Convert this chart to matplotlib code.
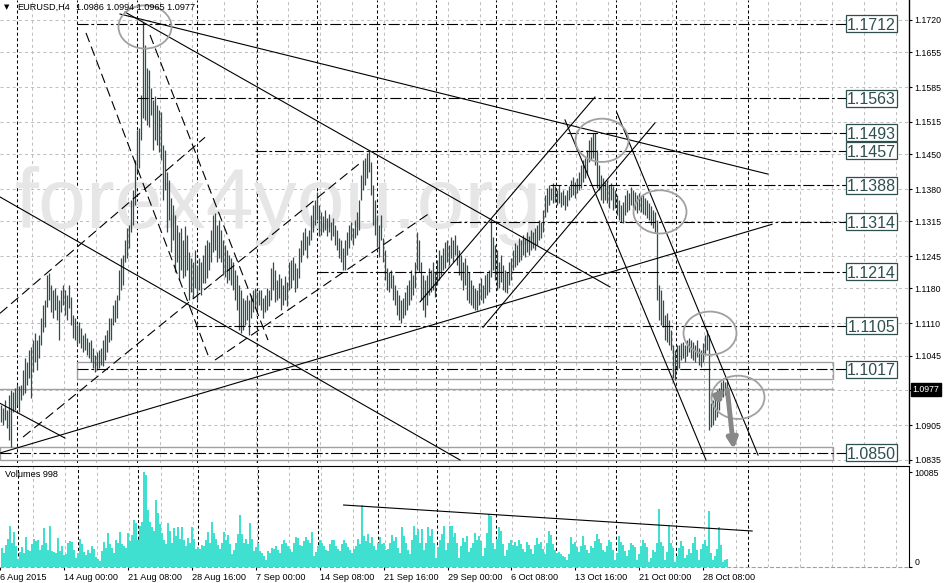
import matplotlib
matplotlib.use("Agg")
import matplotlib.pyplot as plt
from matplotlib.patches import Ellipse, Rectangle
from matplotlib.transforms import blended_transform_factory

plt.rcParams['font.family'] = ['Liberation Sans', 'DejaVu Sans']
plt.rcParams['lines.scale_dashes'] = False

# EURUSD H4 bars, prices in pips (1e-4)
high = [10945, 10939, 10955, 10935, 10966, 10976, 10972, 10980, 10986, 10984,
        10986, 11016, 11040, 11032, 11056, 11062, 11076, 11090, 11076, 11086,
        11120, 11147, 11157, 11207, 11211, 11187, 11177, 11181, 11167, 11157,
        11177, 11187, 11177, 11167, 11187, 11163, 11126, 11120, 11106, 11112,
        11100, 11086, 11090, 11080, 11072, 11076, 11060, 11046, 11052, 11056,
        11060, 11076, 11086, 11096, 11120, 11120, 11147, 11157, 11167, 11217,
        11241, 11247, 11277, 11301, 11307, 11358, 11378, 11438, 11499, 11503,
        11569, 11716, 11669, 11623, 11619, 11583, 11559, 11567, 11549, 11539,
        11535, 11468, 11458, 11414, 11398, 11362, 11348, 11328, 11307, 11293,
        11301, 11277, 11305, 11287, 11253, 11241, 11233, 11257, 11227, 11241,
        11233, 11247, 11267, 11277, 11273, 11297, 11328, 11332, 11307, 11317,
        11297, 11277, 11267, 11257, 11247, 11241, 11233, 11217, 11207, 11187,
        11177, 11161, 11157, 11167, 11157, 11167, 11177, 11181, 11173, 11177,
        11177, 11161, 11167, 11181, 11177, 11221, 11233, 11217, 11197, 11209,
        11201, 11187, 11205, 11193, 11233, 11237, 11243, 11231, 11221, 11261,
        11277, 11293, 11301, 11285, 11297, 11328, 11348, 11358, 11374, 11348,
        11334, 11326, 11338, 11322, 11330, 11313, 11322, 11307, 11297, 11281,
        11277, 11261, 11277, 11293, 11307, 11313, 11301, 11317, 11334, 11358,
        11408, 11438, 11442, 11452, 11458, 11434, 11388, 11358, 11328, 11307,
        11328, 11281, 11257, 11221, 11213, 11217, 11207, 11187, 11177, 11167,
        11157, 11161, 11173, 11187, 11197, 11217, 11207, 11233, 11293, 11277,
        11233, 11207, 11197, 11207, 11221, 11217, 11233, 11213, 11237, 11257,
        11247, 11261, 11273, 11277, 11267, 11283, 11277, 11287, 11267, 11257,
        11247, 11233, 11241, 11227, 11213, 11197, 11187, 11181, 11177, 11191,
        11201, 11187, 11207, 11211, 11217, 11317, 11283, 11267, 11257, 11233,
        11247, 11227, 11217, 11213, 11233, 11241, 11257, 11271, 11267, 11281,
        11277, 11287, 11281, 11293, 11285, 11297, 11293, 11301, 11307, 11317,
        11313, 11338, 11368, 11382, 11388, 11382, 11392, 11386, 11378, 11388,
        11374, 11378, 11368, 11378, 11386, 11398, 11404, 11394, 11402, 11414,
        11428, 11438, 11442, 11458, 11478, 11484, 11492, 11492, 11458, 11428,
        11408, 11402, 11394, 11398, 11388, 11392, 11386, 11378, 11368, 11358,
        11348, 11354, 11368, 11378, 11372, 11384, 11378, 11374, 11368, 11372,
        11366, 11368, 11362, 11358, 11352, 11346, 11338, 11334, 11317, 11187,
        11177, 11157, 11126, 11130, 11116, 11096, 11066, 11056, 11066, 11066,
        11070, 11072, 11066, 11076, 11080, 11076, 11072, 11066, 11076, 11060,
        11056, 11070, 11086, 11096, 11086, 10949, 10955, 10966, 10976, 10980,
        10992, 10996, 10992, 10994]

low = [10911, 10905, 10915, 10899, 10875, 10861, 10931, 10935, 10945, 10931,
       10955, 10966, 10970, 10986, 11000, 10959, 11012, 11032, 11016, 11040,
       11066, 11092, 11102, 11143, 11157, 11132, 11120, 11136, 11116, 11076,
       11132, 11147, 11126, 11116, 11140, 11106, 11080, 11076, 11066, 11070,
       11060, 11052, 11056, 11046, 11040, 11032, 11020, 11012, 11016, 11020,
       11026, 11024, 11036, 11052, 11072, 11076, 11106, 11112, 11120, 11157,
       11177, 11187, 11233, 11241, 11261, 11293, 11307, 11348, 11414, 11422,
       11478, 11523, 11519, 11509, 11505, 11529, 11458, 11478, 11468, 11454,
       11438, 11358, 11378, 11293, 11317, 11253, 11277, 11213, 11233, 11197,
       11217, 11201, 11205, 11217, 11157, 11173, 11161, 11181, 11157, 11177,
       11167, 11191, 11191, 11201, 11217, 11233, 11253, 11257, 11233, 11241,
       11233, 11207, 11203, 11191, 11197, 11187, 11177, 11157, 11136, 11096,
       11090, 11096, 11106, 11116, 11086, 11120, 11132, 11140, 11136, 11147,
       11136, 11120, 11132, 11136, 11145, 11157, 11177, 11153, 11157, 11161,
       11136, 11147, 11157, 11145, 11177, 11181, 11197, 11173, 11181, 11201,
       11233, 11247, 11257, 11241, 11267, 11277, 11293, 11307, 11317, 11285,
       11287, 11293, 11297, 11285, 11293, 11277, 11285, 11267, 11257, 11241,
       11233, 11217, 11217, 11247, 11261, 11277, 11267, 11281, 11287, 11297,
       11358, 11378, 11388, 11402, 11414, 11368, 11307, 11287, 11263, 11243,
       11277, 11233, 11197, 11177, 11173, 11181, 11157, 11147, 11126, 11116,
       11110, 11120, 11126, 11136, 11147, 11157, 11167, 11181, 11217, 11213,
       11157, 11136, 11122, 11147, 11167, 11173, 11177, 11163, 11187, 11197,
       11207, 11217, 11221, 11233, 11227, 11241, 11233, 11247, 11227, 11207,
       11197, 11177, 11187, 11157, 11151, 11147, 11140, 11136, 11136, 11147,
       11157, 11151, 11161, 11167, 11173, 11203, 11217, 11197, 11177, 11181,
       11193, 11177, 11173, 11171, 11187, 11197, 11217, 11223, 11227, 11233,
       11237, 11247, 11243, 11253, 11247, 11257, 11261, 11257, 11267, 11277,
       11281, 11293, 11324, 11334, 11348, 11358, 11352, 11354, 11348, 11352,
       11344, 11348, 11338, 11346, 11358, 11364, 11368, 11362, 11372, 11378,
       11382, 11394, 11402, 11408, 11434, 11438, 11442, 11428, 11382, 11378,
       11358, 11352, 11358, 11352, 11342, 11358, 11338, 11342, 11328, 11317,
       11313, 11311, 11328, 11334, 11338, 11348, 11342, 11338, 11332, 11338,
       11334, 11330, 11328, 11322, 11317, 11307, 11301, 11293, 11157, 11116,
       11106, 11102, 11076, 11072, 11066, 11056, 11000, 10996, 11016, 11020,
       11036, 11040, 11032, 11044, 11052, 11040, 11036, 11032, 11042, 11026,
       11022, 11032, 11046, 11056, 10895, 10901, 10905, 10915, 10921, 10935,
       10955, 10961, 10966, 10965]

volume = [2000, 1500, 2300, 3000, 4350, 2500, 3700, 2200, 900, 1600,
          2100, 1500, 3200, 1800, 1700, 2400, 3000, 2800, 2900, 1800,
          2300, 4100, 2600, 1800, 4350, 1700, 1600, 1500, 3100, 1700,
          2200, 1300, 1400, 2600, 2800, 2700, 1800, 1000, 1500, 3000,
          2400, 1600, 1300, 1800, 1500, 2200, 1900, 1100, 900, 600,
          1700, 2700, 2000, 3600, 2400, 2000, 1500, 2900, 2500, 3700,
          2400, 2200, 2000, 3600, 2800, 3400, 5000, 4700, 2900, 4400,
          4800, 10085, 9770, 6000, 4800, 4200, 3800, 7100, 5700, 4600,
          3600, 2900, 2400, 4700, 3800, 2600, 4150, 3300, 4250, 3000,
          4250, 2900, 2200, 3100, 2600, 4250, 3000, 1900, 2100, 1900,
          2300, 2200, 2900, 3700, 2600, 4800, 3600, 3000, 2300, 1900,
          2500, 3700, 2900, 3400, 2400, 1400, 1800, 2600, 3500, 5500,
          3500, 2500, 3000, 2400, 4700, 3000, 1700, 2100, 2600, 1700,
          1500, 1200, 700, 1700, 1500, 2000, 1900, 2200, 1800, 1500,
          2400, 2900, 2600, 2200, 1900, 1600, 2500, 3200, 3100, 2300,
          2200, 2800, 3200, 2900, 2600, 3700, 1200, 1600, 2200, 2900,
          2600, 2200, 1800, 1700, 2400, 2900, 2900, 2200, 1900, 1700,
          2400, 2900, 2600, 2100, 1800, 1500, 1900, 2200, 3000, 2400,
          6580, 3300, 2800, 3500, 2600, 3200, 2200, 1800, 2600, 3200,
          2400, 2600, 1800, 1900, 2500, 3400, 2800, 3200, 2000, 1500,
          4200, 3300, 2600, 1800, 1400, 2900, 4400, 3400, 4000, 2500,
          4000, 1800, 2600, 4200, 3300, 4000, 2600, 1000, 2100, 2900,
          3500, 4400, 1800, 2600, 4400, 4400, 3200, 3600, 2500, 1000,
          2200, 3100, 2700, 3300, 1600, 2000, 2500, 3600, 2900, 3300,
          2800, 1200, 2000, 3600, 5650, 5400, 2600, 1900, 3000, 4200,
          3800, 2400, 1200, 1800, 2500, 2900, 2300, 2700, 2200, 2900,
          2400, 1900, 1600, 2700, 2300, 1900, 1400, 2300, 3100, 2400,
          2700, 1900, 1400, 2600, 3800, 3400, 2400, 1800, 1500, 1600,
          1400, 1200, 1100, 700, 1400, 3200, 2400, 2700, 2100, 1600,
          2200, 3300, 2300, 1800, 1500, 2200, 2000, 2800, 3550, 3000,
          2500, 1800, 1600, 2200, 2900, 2700, 1800, 700, 1500, 3250,
          2700, 2300, 1700, 1200, 1800, 2500, 2300, 2100, 700, 1400,
          2200, 2900, 2500, 2100, 500, 1000, 1800, 1600, 2600, 6200,
          2700, 2200, 700, 1600, 4350, 2500, 2000, 500, 1200, 2000,
          2800, 2200, 1000, 1300, 1900, 1500, 2500, 3200, 1800, 700,
          1900, 2400, 2900, 2200, 5900, 1500, 700, 1200, 1900, 4200,
          2300, 500, 700, 850]

price_ticks = [1.1720, 1.1655, 1.1585, 1.1515, 1.1450, 1.1380, 1.1315,
               1.1245, 1.1180, 1.1110, 1.1045, 1.0975, 1.0905, 1.0835]
time_labels = ["6 Aug 2015", "14 Aug 00:00", "21 Aug 08:00", "28 Aug 16:00",
               "7 Sep 00:00", "14 Sep 08:00", "21 Sep 16:00", "29 Sep 00:00",
               "6 Oct 08:00", "13 Oct 16:00", "21 Oct 00:00", "28 Oct 08:00"]
time_label_bars = [-1, 31, 63, 95, 127, 159, 191, 223, 255, 287, 319, 351]
week_sep = [8, 38, 68, 98, 128, 158, 188, 217.5, 247.5, 277.5, 307.5, 337.5, 373.5]

levels = [1.1712, 1.1563, 1.1493, 1.1457, 1.1388, 1.1314, 1.1214, 1.1105, 1.1017, 1.0850]
level_start = [38, 68, 283, 127, 274.5, 224.5, 158, 97, 38, -0.5]

# trend lines: (bar, price) -> (bar, price)
solid_lines = [((59.5, 1.1732), (383.5, 1.1410)),
               ((62, 1.1736), (304.5, 1.1183)),
               ((-0.5, 1.1364), (229.5, 1.0835)),
               ((-0.5, 1.0949), (32, 1.0879)),
               ((-0.5, 1.0849), (385.5, 1.1309)),
               ((209.5, 1.1153), (297, 1.1565)),
               ((241, 1.1102), (327, 1.1513)),
               ((282, 1.1519), (352.5, 1.0835)),
               ((308, 1.1533), (378.5, 1.0845))]
dashed_lines = [((42.5, 1.1694), (103.5, 1.1046)),
                ((74.5, 1.1690), (133.5, 1.1076)),
                ((-0.5, 1.1130), (102, 1.1484)),
                ((11, 1.0881), (179.5, 1.1432)),
                ((107, 1.1036), (214.5, 1.1332))]
circles = [(72, 1.1706), (300.5, 1.1478), (329.5, 1.1334), (354.5, 1.1090), (368.5, 1.0961)]

bar_color = '#2f4f4f'
grid_color = '#c0c0c0'

W, H = 945, 583
fig = plt.figure(figsize=(W / 100, H / 100), dpi=100)
ax = fig.add_axes([0, 1 - 463 / H, 909 / W, 463 / H])
axv = fig.add_axes([0, 1 - 567 / H, 909 / W, 101 / H])

n = len(high)
xs = list(range(n))

# ---- price panel ----
ax.set_xlim(-0.5, 454)
ax.set_ylim(1.08289, 1.17602)

for t in price_ticks:
    ax.axhline(t, color=grid_color, lw=0.75, ls=(0, (2.2, 2.2)), zorder=0.5)
for k in range(1, 29):
    for a in (ax, axv):
        a.axvline(16 * k - 0.5, color=grid_color, lw=0.75, ls=(0, (2.2, 2.2)), zorder=0.5)
for s in week_sep:
    for a in (ax, axv):
        a.axvline(s, color='black', lw=0.75, ls=(0, (2.2, 1.8)), zorder=0.8)

ax.text(7, 1.1301, "forex4you.org", fontsize=62, color='#e6e6e6',
        ha='left', va='baseline', zorder=1)

ax.vlines(xs, [v / 1e4 for v in low], [v / 1e4 for v in high], color=bar_color, lw=0.9, zorder=3)

# rectangles and bid line
ax.add_patch(Rectangle((38, 1.0998), 378, 0.0034, fill=False, ec='#a0a0a0', lw=1, zorder=2))
ax.add_patch(Rectangle((-0.5, 1.0835), 416.5, 0.0026, fill=False, ec='#a0a0a0', lw=1, zorder=2))
ax.plot([-0.5, 416], [1.0978, 1.0978], color='#a0a0a0', lw=1, zorder=2)

for (x0, y0), (x1, y1) in solid_lines:
    ax.plot([x0, x1], [y0, y1], color='black', lw=0.8, zorder=4)
for (x0, y0), (x1, y1) in dashed_lines:
    ax.plot([x0, x1], [y0, y1], color='black', lw=0.8, ls=(0, (7, 3.5)), zorder=4)

for lvl, x0 in zip(levels, level_start):
    ax.plot([x0, 422.5], [lvl, lvl], color='black', lw=0.8, ls=(0, (8, 2, 2, 2)), zorder=4)
    ax.add_patch(Rectangle((422.5, lvl - 0.00171), 25.5, 0.00342, fc='white', ec=bar_color,
                           lw=0.9, zorder=6))
    ax.text(435.25, lvl, "%.4f" % lvl, fontsize=11.5, color=bar_color, ha='center',
            va='center_baseline', zorder=7)

for cx, cy in circles:
    ax.add_patch(Ellipse((cx, cy), 26.5, 0.0087, fill=False, ec='#a0a0a0', lw=1.3, zorder=5))

ax.annotate('', xy=(363, 1.0982), xytext=(356.5, 1.0955),
            arrowprops=dict(arrowstyle='-|>', lw=3.5, color='#888888', mutation_scale=12), zorder=6)
ax.annotate('', xy=(366.5, 1.0851), xytext=(363, 1.0982),
            arrowprops=dict(arrowstyle='-|>', lw=3.5, color='#888888', mutation_scale=15), zorder=6)

# the 1.0975 tick label sits under the current price box, so it stays blank
ax.yaxis.tick_right()
ax.set_yticks(price_ticks)
ax.set_yticklabels(["" if t == 1.0975 else "%.4f" % t for t in price_ticks])
ax.tick_params(axis='y', direction='out', length=2.5, width=0.8, pad=1.5, labelsize=6.3)
ax.tick_params(axis='x', length=0, labelbottom=False)
for side in ('left', 'top', 'bottom'):
    ax.spines[side].set_visible(False)
ax.spines['right'].set_linewidth(1)

tr = blended_transform_factory(ax.transAxes, ax.transData)
ax.text(1.004, 1.0977, "1.0977", transform=tr, color='white', fontsize=6.3, ha='left',
        va='center', bbox=dict(fc='black', ec='black', pad=1.2), zorder=8, clip_on=False)

fig.text(17 / W, 1 - 7 / H, "EURUSD,H4", fontsize=6.6, ha='left', va='center')
fig.text(76 / W, 1 - 7 / H, "1.0986 1.0994 1.0965 1.0977", fontsize=6.6, ha='left', va='center')
fig.text(4 / W, 1 - 7 / H, "\u25bc", fontsize=5, ha='left', va='center', family='DejaVu Sans')

# ---- volume panel ----
axv.set_xlim(-0.5, 454)
axv.set_ylim(0, 10722)
axv.bar(xs, volume, width=1.0, color='#40e0d0', lw=0, zorder=3)
axv.plot([171, 375.5], [6580, 3820], color='black', lw=0.8, zorder=4)
axv.text(5 / 909, 0.92, "Volumes 998", transform=axv.transAxes, fontsize=6.6, va='center')

axv.yaxis.tick_right()
axv.set_yticks([0, 10085])
axv.set_yticklabels(["0", "10085"])
axv.tick_params(axis='y', direction='out', length=2.5, width=0.8, pad=1.5, labelsize=6.3)
for lab in axv.get_yticklabels():
    if lab.get_text() == "0":
        lab.set_va('bottom')
axv.set_xticks(time_label_bars)
axv.set_xticklabels(time_labels)
for lab in axv.get_xticklabels():
    lab.set_ha('left')
axv.tick_params(axis='x', direction='out', length=2.5, width=0.8, pad=1.5, labelsize=6.6)
axv.spines['left'].set_visible(False)
axv.spines['bottom'].set_color('#a0a0a0')
axv.spines['bottom'].set_linestyle((0, (2.2, 2.2)))

fig.savefig("out.png", dpi=100)
